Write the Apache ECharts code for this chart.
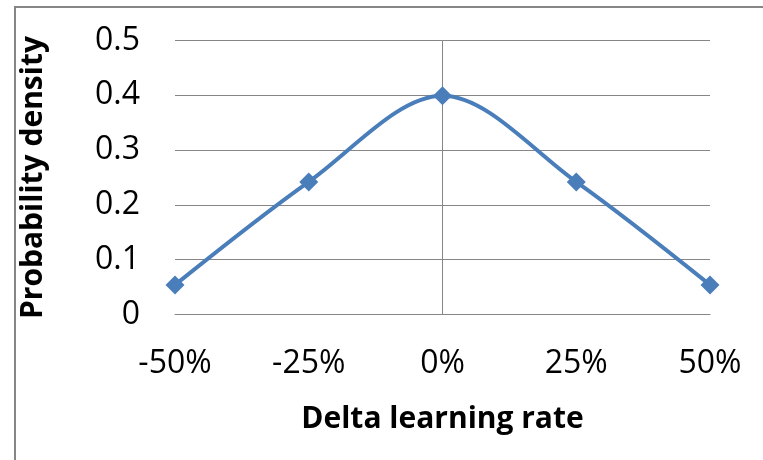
<!DOCTYPE html>
<html>
<head>
<meta charset="utf-8">
<script src="https://cdn.jsdelivr.net/npm/echarts@6/dist/echarts.min.js"></script>
<style>
html,body{margin:0;padding:0;background:#fff;}
#chart{width:763px;height:460px;}
</style>
</head>
<body>
<div id="chart"></div>
<script>
// Data
var xValues = [-50, -25, 0, 25, 50];          // delta learning rate (%)
var density = [0.054, 0.242, 0.399, 0.242, 0.054];
var yTicks = [0, 0.1, 0.2, 0.3, 0.4, 0.5];
var xTicks = [-50, -25, 0, 25, 50];
var xTitle = 'Delta learning rate';
var yTitle = 'Probability density';

var FONT = 'Open Sans';
var gray = '#868686';
var blue = '#4a7ebb';

var chart = echarts.init(document.getElementById('chart'), null, {renderer: 'canvas'});
var points = xValues.map(function (x, i) { return [x, density[i]]; });

chart.setOption({
  animation: false,
  backgroundColor: '#ffffff',
  graphic: [{
    type: 'rect',
    shape: {x: 15, y: 7, width: 800, height: 500},
    style: {fill: 'none', stroke: gray, lineWidth: 2},
    silent: true,
    z: -1
  }],
  grid: {left: 175, right: 53, top: 40.5, bottom: 145.5, containLabel: false},
  xAxis: {
    type: 'value',
    min: xTicks[0],
    max: xTicks[xTicks.length - 1],
    interval: 25,
    axisLine: {show: true, onZero: false, lineStyle: {color: gray, width: 1}},
    axisTick: {show: false},
    splitLine: {show: false},
    axisLabel: {
      margin: 33,
      fontFamily: FONT, fontSize: 32, color: '#000',
      formatter: function (v) { return v + '%'; }
    },
    name: xTitle,
    nameLocation: 'middle',
    nameGap: 90,
    nameTextStyle: {fontFamily: FONT, fontSize: 30, fontWeight: 'bold', color: '#000'}
  },
  yAxis: {
    type: 'value',
    position: 'left',
    min: yTicks[0],
    max: yTicks[yTicks.length - 1],
    interval: 0.1,
    axisLine: {show: false},
    axisTick: {show: false},
    splitLine: {show: true, lineStyle: {color: gray, width: 1}},
    axisLabel: {
      margin: 35,
      fontFamily: FONT, fontSize: 32, color: '#000',
      formatter: function (v) { return v === 0 ? '0' : v.toFixed(1); }
    },
    name: yTitle,
    nameLocation: 'middle',
    nameRotate: 90,
    nameGap: 127,
    nameTextStyle: {fontFamily: FONT, fontSize: 30, fontWeight: 'bold', color: '#000'}
  },
  series: [{
    type: 'line',
    data: [],
    silent: true,
    z: 1,
    markLine: {
      silent: true,
      symbol: ['none', 'none'],
      label: {show: false},
      lineStyle: {color: gray, width: 1, type: 'solid'},
      emphasis: {disabled: true},
      data: [{xAxis: 0}]
    }
  }, {
    type: 'line',
    data: points,
    smooth: 0.33,
    symbol: 'diamond',
    symbolSize: 19,
    lineStyle: {color: blue, width: 4},
    itemStyle: {color: blue},
    z: 5
  }]
});
</script>
</body>
</html>
